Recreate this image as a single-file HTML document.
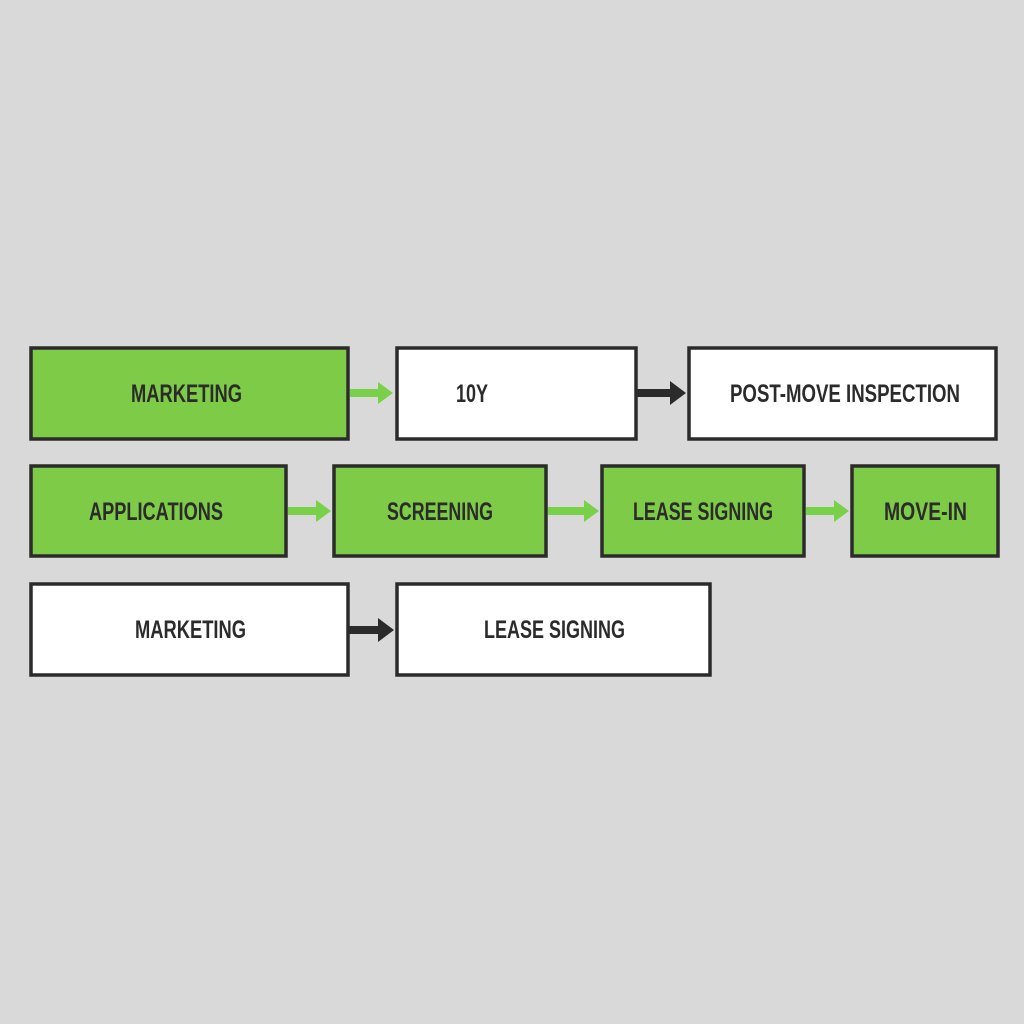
<!DOCTYPE html>
<html><head><meta charset="utf-8"><style>
html,body{margin:0;padding:0;background:#d9d9d9;}
svg{display:block}
text{font-family:"Liberation Sans Narrow","Liberation Sans",sans-serif;font-size:25px;font-weight:bold;fill:#2b2b2b;}
</style></head><body>
<svg width="1024" height="1024" viewBox="0 0 1024 1024" xmlns="http://www.w3.org/2000/svg">
<rect width="1024" height="1024" fill="#d9d9d9"/>
<g stroke="#2b2b2b" stroke-width="3.5">
<rect x="31" y="348" width="317" height="91" fill="#7ecb48"/>
<rect x="397" y="348" width="239" height="91" fill="#ffffff"/>
<rect x="689" y="348" width="307" height="91" fill="#ffffff"/>
<rect x="31" y="466" width="255" height="90" fill="#7ecb48"/>
<rect x="334" y="466" width="212" height="90" fill="#7ecb48"/>
<rect x="602" y="466" width="202" height="90" fill="#7ecb48"/>
<rect x="852" y="466" width="146" height="90" fill="#7ecb48"/>
<rect x="31" y="584" width="317" height="91" fill="#ffffff"/>
<rect x="397" y="584" width="313" height="91" fill="#ffffff"/>
</g>
<g fill="#79d14a">
<polygon points="350,389 378,389 378,382 393,393 378,404 378,397 350,397"/>
<polygon points="288,507 316,507 316,500 331,511 316,522 316,515 288,515"/>
<polygon points="548,507 584,507 584,500 599,511 584,522 584,515 548,515"/>
<polygon points="806,507 834,507 834,500 849,511 834,522 834,515 806,515"/>
</g>
<g fill="#2b2b2b">
<polygon points="637,389 670,389 670,381 686,393 670,405 670,397 637,397"/>
<polygon points="349,626 378,626 378,618 394,630 378,642 378,634 349,634"/>
</g>
<text x="131" y="402" textLength="111" lengthAdjust="spacingAndGlyphs">MARKETING</text>
<text x="456" y="402" textLength="32" lengthAdjust="spacingAndGlyphs">10Y</text>
<text x="730" y="402" textLength="230" lengthAdjust="spacingAndGlyphs">POST-MOVE INSPECTION</text>
<text x="89" y="520" textLength="134" lengthAdjust="spacingAndGlyphs">APPLICATIONS</text>
<text x="387" y="520" textLength="106" lengthAdjust="spacingAndGlyphs">SCREENING</text>
<text x="633" y="520" textLength="140" lengthAdjust="spacingAndGlyphs">LEASE SIGNING</text>
<text x="884" y="520" textLength="83" lengthAdjust="spacingAndGlyphs">MOVE-IN</text>
<text x="135" y="638" textLength="111" lengthAdjust="spacingAndGlyphs">MARKETING</text>
<text x="484" y="638" textLength="141" lengthAdjust="spacingAndGlyphs">LEASE SIGNING</text>
</svg>
</body></html>
